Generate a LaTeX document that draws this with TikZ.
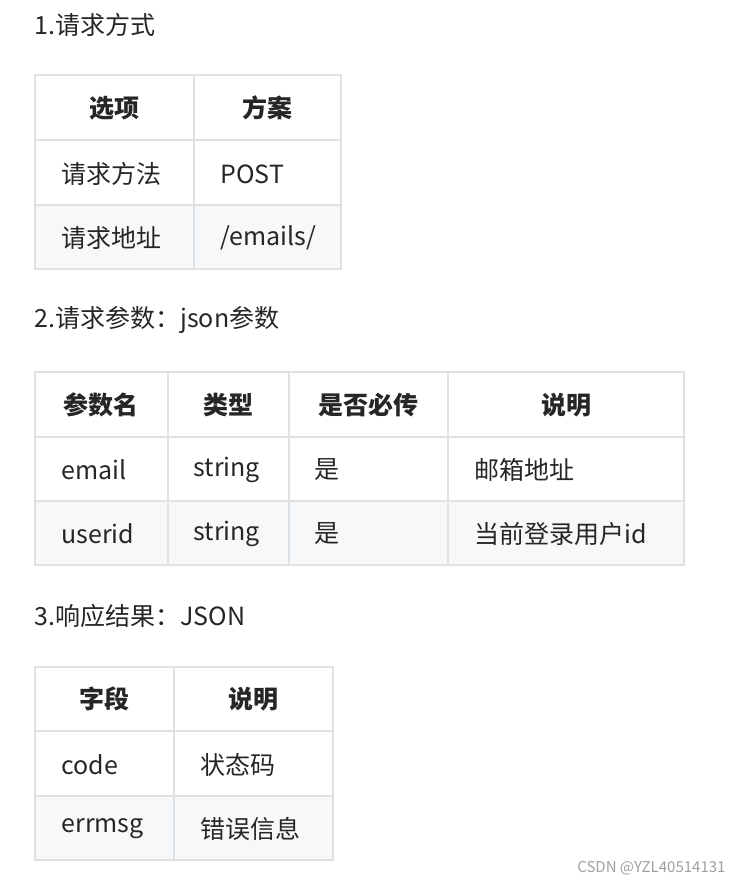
\documentclass[tikz,border=0pt]{standalone}
\usepackage{fontspec}
\setmainfont{Noto Sans CJK SC}
\begin{document}
\begin{tikzpicture}[x=1pt,y=-1pt,
    title/.style={anchor=west, font=\fontsize{25}{28}\selectfont, text=black!85},
    head/.style={font=\fontsize{25}{28}\selectfont\bfseries, text=black!85},
    body/.style={anchor=west, font=\fontsize{25}{28}\selectfont, text=black!85},
    rowbg/.style={fill={rgb,255:red,246;green,248;blue,250}},
    grid/.style={draw={rgb,255:red,223;green,226;blue,229}, line width=1.5pt}
]
\useasboundingbox (0,0) rectangle (742,885);

% 1
\node[title] (t1) at (31,25) {1.请求方式};
\fill[rowbg] (35,205) rectangle (341,269);
\draw[grid] (35,75) rectangle (341,269);
\draw[grid] (194,75) -- (194,269);
\foreach \y in {140,205} \draw[grid] (35,\y) -- (341,\y);
\node[head] (h11) at (114,108) {选项};
\node[head] (h12) at (267,108) {方案};
\node[body] (c11) at (58,174) {请求方法};
\node[body] (c12) at (217,174) {POST};
\node[body] (c21) at (58,238) {请求地址};
\node[body] (c22) at (217,238) {/emails/};

% 2
\node[title] (t2) at (31,320) {2.请求参数：json参数};
\fill[rowbg] (35,501) rectangle (684,565);
\draw[grid] (35,372) rectangle (684,565);
\foreach \x in {168,289,448} \draw[grid] (\x,372) -- (\x,565);
\foreach \y in {437,501} \draw[grid] (35,\y) -- (684,\y);
\node[head] (h21) at (101,405) {参数名};
\node[head] (h22) at (228,405) {类型};
\node[head] (h23) at (368,405) {是否必传};
\node[head] (h24) at (566,405) {说明};
\node[body] (d11) at (58,470) {email};
\node[body] (d12) at (190,470) {string};
\node[body] (d13) at (311,470) {是};
\node[body] (d14) at (471,470) {邮箱地址};
\node[body] (d21) at (58,534) {userid};
\node[body] (d22) at (190,534) {string};
\node[body] (d23) at (311,534) {是};
\node[body] (d24) at (471,534) {当前登录用户id};

% 3
\node[title] (t3) at (31,616) {3.响应结果：JSON};
\fill[rowbg] (35,796) rectangle (333,860);
\draw[grid] (35,667) rectangle (333,860);
\draw[grid] (174,667) -- (174,860);
\foreach \y in {731,796} \draw[grid] (35,\y) -- (333,\y);
\node[head] (h31) at (104,699) {字段};
\node[head] (h32) at (253,699) {说明};
\node[body] (e11) at (58,765) {code};
\node[body] (e12) at (197,765) {状态码};
\node[body] (e21) at (58,829) {errmsg};
\node[body] (e22) at (197,829) {错误信息};

\node[anchor=east, font=\fontsize{15}{17}\selectfont, text=gray!75] (wm) at (729,868) {CSDN @YZL40514131};
\end{tikzpicture}
\end{document}
